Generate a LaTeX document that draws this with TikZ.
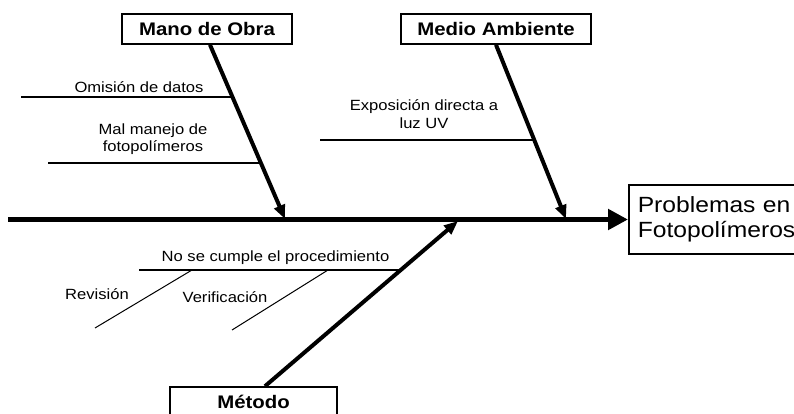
\documentclass[tikz,border=0pt]{standalone}
\usepackage{fontspec}
\setmainfont{Liberation Sans}[FakeStretch=1.12]
\usetikzlibrary{arrows.meta}
\begin{document}
\begin{tikzpicture}[x=1pt,y=-1pt,
  catbox/.style={draw, line width=1.6pt, font=\fontsize{18.2}{22}\selectfont\bfseries, minimum height=30, inner sep=0},
  lbl/.style={inner sep=0, align=center, font=\fontsize{14.8}{17.5}\selectfont},
  bone/.style={line width=4pt, -{Triangle[length=14,width=11]}},
  sub/.style={line width=1.5pt},
  subsub/.style={line width=1pt}]
\useasboundingbox (0,0) rectangle (794,414);
\clip (0,0) rectangle (794,414);
% effect
\node[draw, line width=1.6pt, anchor=west, minimum height=69, text width=170, align=left,
      inner xsep=9, inner ysep=0, font=\fontsize{22}{25}\selectfont] (effect) at (628,219.5) {Problemas en\\Fotopolímeros};
\coordinate (tail) at (8,219.5);
\draw[line width=5pt, -{Triangle[length=20,width=20]}] (tail) -- (effect.west);
% category boxes
\node[catbox, minimum width=170] (mano) at (207,29) {Mano de Obra};
\node[catbox, minimum width=190] (medio) at (496,29) {Medio Ambiente};
\node[catbox, minimum width=167] (metodo) at (253.5,402) {Método};
% tips on spine
\coordinate (tipA) at (285,219);
\coordinate (tipB) at (566,219);
\coordinate (tipC) at (458,221);
\draw[bone] ([xshift=3]mano.south) -- (tipA);
\draw[bone] (medio.south) -- (tipB);
\draw[bone] ([xshift=11.5]metodo.north) -- (tipC);
% sub-causes Mano de Obra
\coordinate (o1) at (21,97);  \coordinate (o2) at (232.7,97);
\coordinate (m1) at (48,163); \coordinate (m2) at (261,163);
\draw[sub] (o1) -- (o2);
\draw[sub] (m1) -- (m2);
\node[lbl] (omision) at (139,87) {Omisión de datos};
\node[lbl] (malmanejo) at (153,139) {Mal manejo de\\fotopolímeros};
% sub-causes Medio Ambiente
\coordinate (e1) at (320,140); \coordinate (e2) at (534,140);
\draw[sub] (e1) -- (e2);
\node[lbl] (expo) at (424,114) {Exposición directa a\\luz UV};
% sub-causes Método
\coordinate (n1) at (139,270); \coordinate (n2) at (401,270);
\draw[sub] (n1) -- (n2);
\node[lbl] (nocumple) at (275.5,258) {No se cumple el procedimiento};
\coordinate (r1) at (192,270); \coordinate (r2) at (95,328);
\coordinate (v1) at (328,270); \coordinate (v2) at (232,330);
\draw[subsub] (r1) -- (r2);
\draw[subsub] (v1) -- (v2);
\node[lbl] (revision) at (97,294) {Revisión};
\node[lbl] (verif) at (225,297) {Verificación};
\end{tikzpicture}
\end{document}
